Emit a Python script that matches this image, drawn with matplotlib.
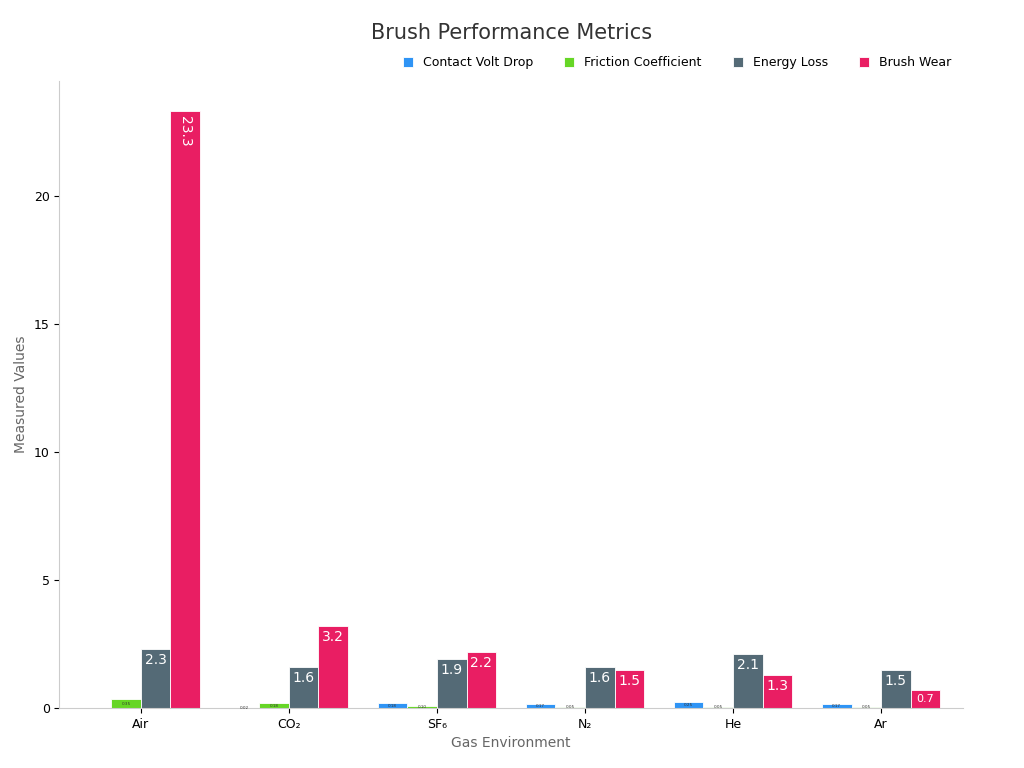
import matplotlib.pyplot as plt
import numpy as np

gases = ['Air', 'CO₂', 'SF₆', 'N₂', 'He', 'Ar']
contact_volt_drop = [0.0, 0.02, 0.18, 0.17, 0.25, 0.17]
friction_coeff = [0.35, 0.18, 0.10, 0.05, 0.05, 0.05]
energy_loss = [2.3, 1.6, 1.9, 1.6, 2.1, 1.5]
brush_wear = [23.3, 3.2, 2.2, 1.5, 1.3, 0.7]

series = [('Contact Volt Drop', contact_volt_drop, '#2f94f5'),
          ('Friction Coefficient', friction_coeff, '#66d626'),
          ('Energy Loss', energy_loss, '#546a76'),
          ('Brush Wear', brush_wear, '#e91e63')]

fig, ax = plt.subplots(figsize=(10.24, 7.68), dpi=100)
x = np.arange(len(gases))
w = 0.2
for i, (name, vals, col) in enumerate(series):
    bars = ax.bar(x + (i - 1.5) * w, vals, w, color=col, label=name,
                  edgecolor='white', linewidth=0.6)
    for b, v in zip(bars, vals):
        if v <= 0:
            continue
        cx = b.get_x() + b.get_width() / 2
        if v > 10:
            ax.text(cx, v - 0.2, f'{v:.1f}', ha='center', va='top', rotation=-90,
                    color='white', fontsize=10)
        elif v >= 1:
            ax.text(cx, v - 0.15, f'{v:.1f}', ha='center', va='top',
                    color='white', fontsize=10)
        elif v >= 0.5:
            ax.text(cx, v / 2, f'{v:.1f}', ha='center', va='center',
                    color='white', fontsize=8)
        else:
            ax.text(cx, v / 2, f'{v:.2f}', ha='center', va='center',
                    color='#333333', fontsize=3)

ax.set_xticks(x)
ax.set_xticklabels(gases, fontsize=9)
ax.tick_params(axis='y', labelsize=9)
ax.set_ylim(0, 24.5)
ax.set_xlim(-0.55, 5.55)
ax.set_yticks([0, 5, 10, 15, 20])
for s in ['top', 'right']:
    ax.spines[s].set_visible(False)
for s in ['left', 'bottom']:
    ax.spines[s].set_color('#cccccc')
ax.set_xlabel('Gas Environment', fontsize=10, color='#666666')
ax.set_ylabel('Measured Values', fontsize=10, color='#666666')
fig.suptitle('Brush Performance Metrics', fontsize=15, color='#333333', x=0.5, y=0.97)
ax.legend(loc='lower right', bbox_to_anchor=(1.0, 1.0), ncol=4, frameon=False,
          fontsize=9, handlelength=0.8, handleheight=0.8, columnspacing=2.5)
plt.subplots_adjust(left=0.058, right=0.94, top=0.895, bottom=0.078)
fig.savefig('out.png')
